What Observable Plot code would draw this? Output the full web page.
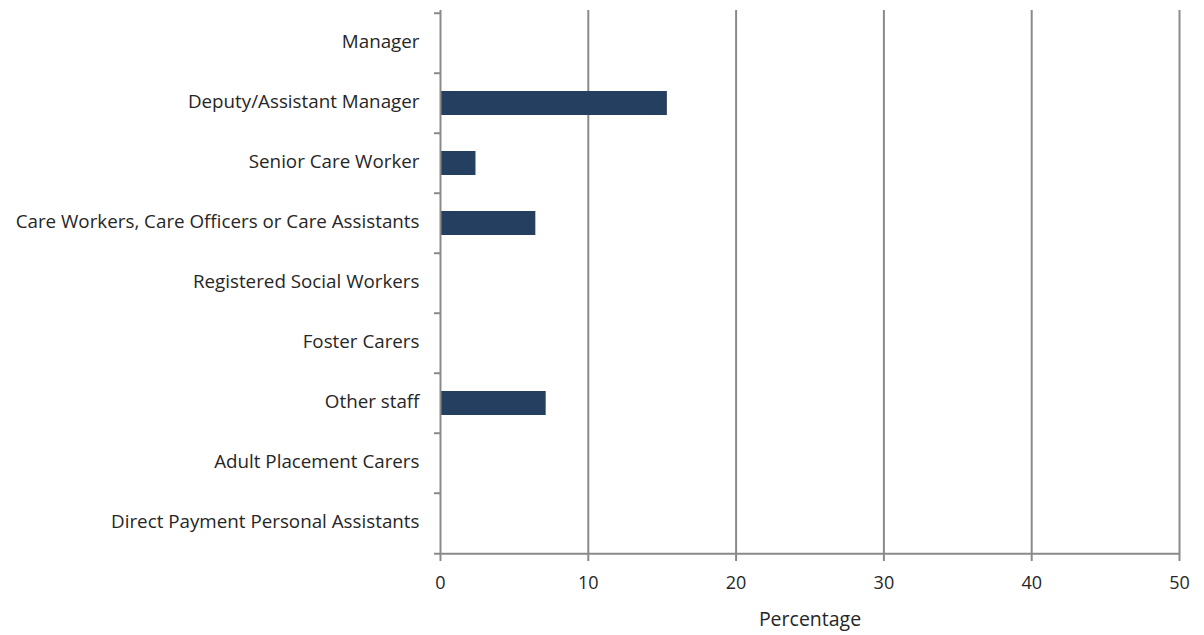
<!DOCTYPE html>
<html>
<head>
<meta charset="utf-8">
<script src="https://cdn.jsdelivr.net/npm/d3@7"></script>
<script src="https://cdn.jsdelivr.net/npm/@observablehq/plot@0.6"></script>
<style>
  html, body { margin: 0; padding: 0; background: #fff; }
  #chart svg { display: block; }
</style>
</head>
<body>
<div id="chart"></div>
<script>
const categories = [
  "Manager",
  "Deputy/Assistant Manager",
  "Senior Care Worker",
  "Care Workers, Care Officers or Care Assistants",
  "Registered Social Workers",
  "Foster Carers",
  "Other staff",
  "Adult Placement Carers",
  "Direct Payment Personal Assistants"
];
const values = [0, 15.35, 2.4, 6.45, 0, 0, 7.15, 0, 0];
const xTicks = [0, 10, 20, 30, 40, 50];

const data = categories.map((c, i) => ({category: c, value: values[i]}));

const W = 1204, H = 635;
const mt = 10, mb = 80, ml = 440, mr = 25;
const step = (H - mt - mb) / categories.length;
const gray = "#8a8a8a";
const textColor = "#262626";

const chart = Plot.plot({
  width: W,
  height: H,
  marginTop: mt,
  marginBottom: mb,
  marginLeft: ml,
  marginRight: mr,
  style: {fontFamily: "'Open Sans', sans-serif", fontSize: "18px", color: textColor, background: "#fff"},
  x: {domain: [0, 50], ticks: xTicks},
  y: {domain: categories, paddingInner: 0.6, paddingOuter: 0.3},
  marks: [
    Plot.gridX(xTicks.filter(d => d > 0), {stroke: gray, strokeOpacity: 1, strokeWidth: 2}),
    Plot.barX(data, {x: "value", y: "category", fill: "#253f61"}),
    // y axis line
    Plot.ruleX([0], {stroke: gray, strokeWidth: 2}),
    // category boundary ticks
    Plot.ruleY(categories, {y: d => d, x1: 0, x2: 0, insetLeft: -6, dy: -step / 2, stroke: gray, strokeWidth: 2}),
    // x axis line
    Plot.ruleY(categories.slice(-1), {y: d => d, x1: 0, x2: 50, insetLeft: -6, dy: step / 2, stroke: gray, strokeWidth: 2}),
    Plot.axisX({ticks: xTicks, tickSize: 6, tickPadding: 15, stroke: gray, strokeWidth: 2, strokeOpacity: 1, fill: textColor, fontSize: 18, label: null}),
    Plot.axisY({tickSize: 0, tickPadding: 21, fill: textColor, fontSize: 18.8, dy: -1.5, label: null}),
    Plot.text(["Percentage"], {frameAnchor: "bottom", dy: 70, fontSize: 19.5, fill: textColor})
  ]
});
document.getElementById("chart").appendChild(chart);
</script>
</body>
</html>
